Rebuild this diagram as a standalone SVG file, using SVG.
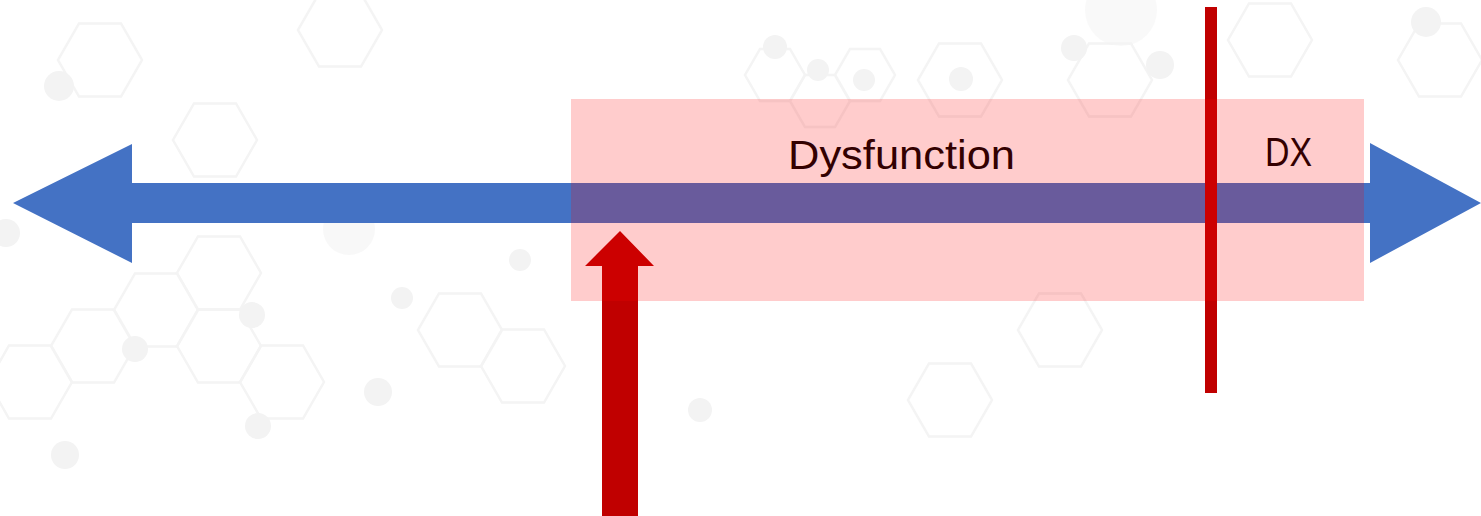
<svg xmlns="http://www.w3.org/2000/svg" xmlns:xlink="http://www.w3.org/1999/xlink" width="1481" height="516" viewBox="0 0 1481 516">
  <style>
    .bgline { fill: none; stroke: #f4f4f4; stroke-width: 2.5; }
    .bgdot { fill: #f3f3f3; }
    .blue { fill: #4472C4; }
    .dark-red { fill: #C00000; }
    .zone { fill: #FF0000; fill-opacity: 0.2; }
    .label { font-family: "Liberation Sans", Arial, sans-serif; font-size: 40px; fill: #330000; }
  </style>
  <defs>
    <path id="hx" d="M -21,-36.5 L 21,-36.5 L 42,0 L 21,36.5 L -21,36.5 L -42,0 Z"/>
    <path id="hxs" d="M -15,-26 L 15,-26 L 30,0 L 15,26 L -15,26 L -30,0 Z"/>
  </defs>
  <rect width="1481" height="516" fill="#ffffff"/>
  <g id="background">
    <use href="#hx" class="bgline" x="93" y="346"/>
    <use href="#hx" class="bgline" x="156" y="310"/>
    <use href="#hx" class="bgline" x="219" y="346"/>
    <use href="#hx" class="bgline" x="282" y="382"/>
    <use href="#hx" class="bgline" x="30" y="382"/>
    <use href="#hx" class="bgline" x="219" y="273"/>
    <use href="#hx" class="bgline" x="100" y="60"/>
    <use href="#hx" class="bgline" x="215" y="140"/>
    <use href="#hx" class="bgline" x="340" y="30"/>
    <use href="#hx" class="bgline" x="460" y="330"/>
    <use href="#hx" class="bgline" x="523" y="366"/>
    <use href="#hxs" class="bgline" x="775" y="75"/>
    <use href="#hxs" class="bgline" x="820" y="101"/>
    <use href="#hxs" class="bgline" x="865" y="75"/>
    <use href="#hx" class="bgline" x="960" y="80"/>
    <use href="#hx" class="bgline" x="1110" y="80"/>
    <use href="#hx" class="bgline" x="1270" y="40"/>
    <use href="#hx" class="bgline" x="1440" y="60"/>
    <use href="#hx" class="bgline" x="1060" y="330"/>
    <use href="#hx" class="bgline" x="950" y="400"/>
    <circle class="bgdot" cx="59" cy="86" r="15"/>
    <circle class="bgdot" cx="135" cy="349" r="13"/>
    <circle class="bgdot" cx="252" cy="315" r="13"/>
    <circle class="bgdot" cx="258" cy="426" r="13"/>
    <circle class="bgdot" cx="65" cy="455" r="14"/>
    <circle class="bgdot" cx="6" cy="233" r="14"/>
    <circle class="bgdot" cx="378" cy="392" r="14"/>
    <circle class="bgdot" cx="349" cy="229" r="26" fill-opacity="0.6"/>
    <circle class="bgdot" cx="775" cy="47" r="12"/>
    <circle class="bgdot" cx="818" cy="70" r="11"/>
    <circle class="bgdot" cx="864" cy="80" r="11"/>
    <circle class="bgdot" cx="961" cy="79" r="12"/>
    <circle class="bgdot" cx="1074" cy="48" r="13"/>
    <circle class="bgdot" cx="1121" cy="10" r="36" fill-opacity="0.5"/>
    <circle class="bgdot" cx="1160" cy="65" r="14"/>
    <circle class="bgdot" cx="1426" cy="22" r="15"/>
    <circle class="bgdot" cx="520" cy="260" r="11"/>
    <circle class="bgdot" cx="402" cy="298" r="11"/>
    <circle class="bgdot" cx="700" cy="410" r="12"/>
  </g>
  <g id="connectors">
    <polygon id="timeline" class="blue" points="13,203 132,144 132,183 1370,183 1370,143 1481,203 1370,263 1370,223 132,223 132,263"/>
    <rect id="dx-marker" class="dark-red" x="1205" y="7" width="12" height="386"/>
    <polygon id="onset-arrow" class="dark-red" points="620,231 654,266 638,266 638,516 602,516 602,266 585,266"/>
  </g>
  <g id="dysfunction">
    <rect class="zone" x="571" y="99" width="793" height="202"/>
    <text class="label" x="788" y="169" textLength="227" lengthAdjust="spacingAndGlyphs">Dysfunction</text>
  </g>
  <g id="dx">
    <text class="label" x="1265" y="166" textLength="47" lengthAdjust="spacingAndGlyphs">DX</text>
  </g>
</svg>
